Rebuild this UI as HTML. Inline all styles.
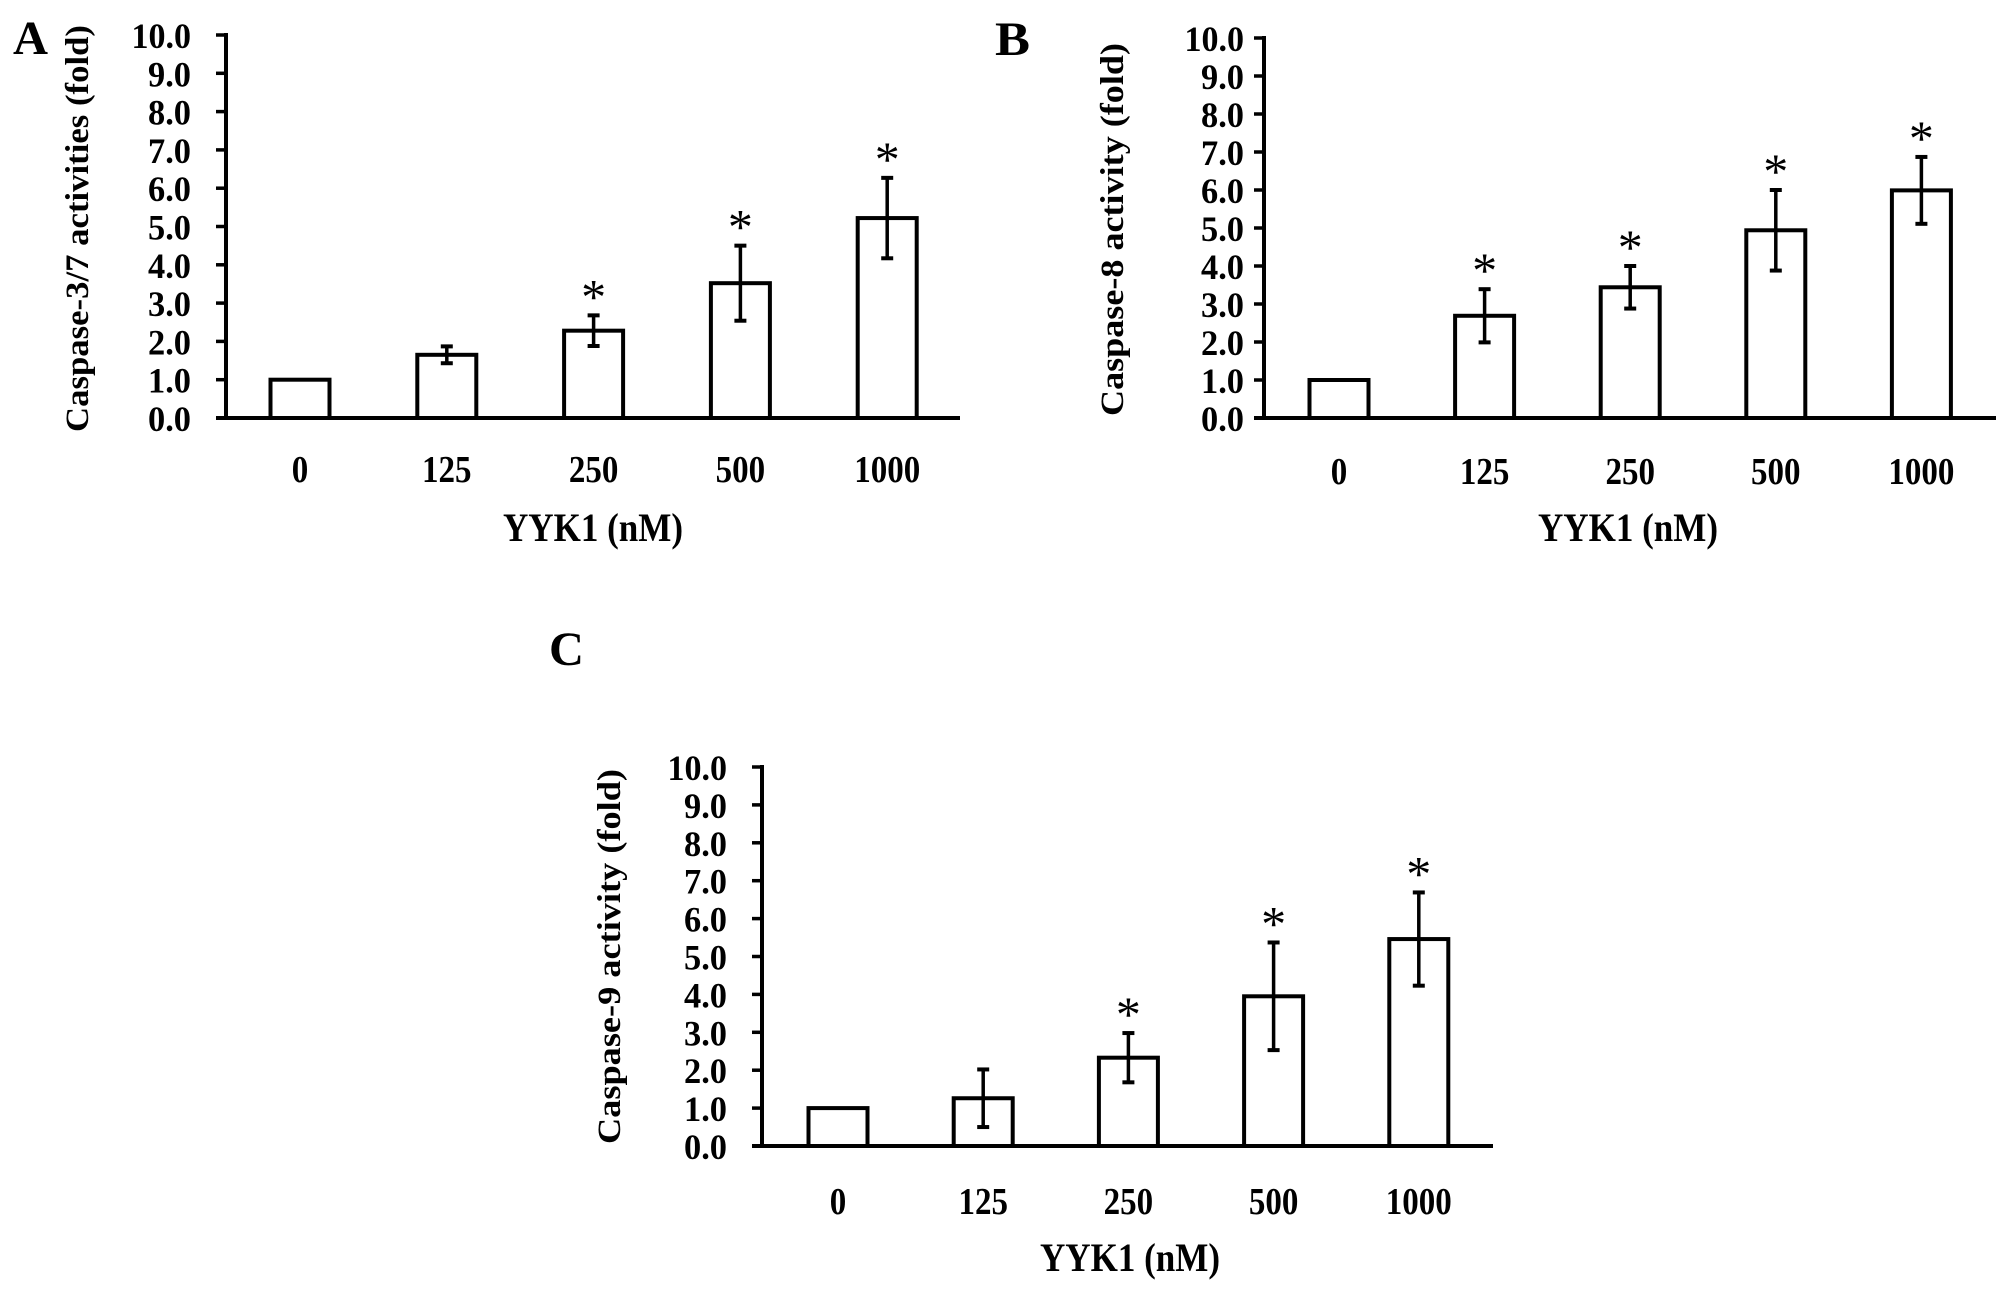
<!DOCTYPE html>
<html><head><meta charset="utf-8">
<style>
html,body{margin:0;padding:0;background:#fff;}
svg{display:block;}
text{font-family:"Liberation Serif","Times New Roman",serif;fill:#000;}
</style></head>
<body>
<svg id="fig" width="2008" height="1290" viewBox="0 0 2008 1290" xmlns="http://www.w3.org/2000/svg"></svg>
<script>
const categories = ["0","125","250","500","1000"];
const yTicks = ["0.0","1.0","2.0","3.0","4.0","5.0","6.0","7.0","8.0","9.0","10.0"];
const valuesA = [1.0, 1.65, 2.28, 3.52, 5.22];
const errorsA = [0, 0.22, 0.40, 0.98, 1.05];
const sigA = [false, false, true, true, true];
const valuesB = [1.0, 2.69, 3.44, 4.94, 5.99];
const errorsB = [0, 0.70, 0.56, 1.06, 0.88];
const sigB = [false, true, true, true, true];
const valuesC = [1.0, 1.26, 2.33, 3.95, 5.46];
const errorsC = [0, 0.76, 0.65, 1.42, 1.23];
const sigC = [false, false, true, true, true];

const NS = "http://www.w3.org/2000/svg";
const svg = document.getElementById("fig");
function mk(tag, attrs, parent){
  const e = document.createElementNS(NS, tag);
  for (const k in attrs) e.setAttribute(k, attrs[k]);
  (parent||svg).appendChild(e);
  return e;
}
function lenFor(s, dw, pw){ let w=0; for(const c of s){ w += (c==='.')?pw:dw; } return w; }

const panels = [
 {id:"a", letter:"A", lx:13, ly:54, title:"Caspase-3/7 activities (fold)", tcx:77, tTop:25, tBot:432,
  ax:226, top:35, zero:418, xEnd:960, c0:300, step:146.8, bw:59, tickR:191, xTickBase:482, xTitleBase:541, xTitleCx:593,
  vals:valuesA, errs:errorsA, sig:sigA},
 {id:"b", letter:"B", lx:995, ly:55, title:"Caspase-8 activity (fold)", tcx:1112, tTop:43, tBot:416,
  ax:1264, top:38, zero:418, xEnd:1996, c0:1339, step:145.6, bw:59, tickR:1244, xTickBase:484, xTitleBase:541, xTitleCx:1628,
  vals:valuesB, errs:errorsB, sig:sigB},
 {id:"c", letter:"C", lx:549, ly:665, title:"Caspase-9 activity (fold)", tcx:609, tTop:769, tBot:1144,
  ax:762, top:767, zero:1146, xEnd:1493, c0:838, step:145.2, bw:59, tickR:727, xTickBase:1214, xTitleBase:1271, xTitleCx:1130,
  vals:valuesC, errs:errorsC, sig:sigC}
];

panels.forEach(p=>{
  const g = mk("g", {});
  
  
  const yScale = v => p.zero - (p.zero - p.top) * v / 10;
  const xScale = i => p.c0 + i * p.step;

  const L = mk("text", {x:p.lx, y:p.ly, "font-size":48, "font-weight":"bold", textLength:35, lengthAdjust:"spacingAndGlyphs"}, g);
  L.textContent = p.letter;
  
  

  const cy = (p.tTop + p.tBot)/2;
  const yt = mk("text", {x:0, y:0, "font-size":33, "font-weight":"bold", "text-anchor":"middle",
    textLength:(p.tBot-p.tTop), lengthAdjust:"spacingAndGlyphs",
    transform:`translate(${p.tcx+11},${cy}) rotate(-90)`}, g);
  yt.textContent = p.title;
  
  

  const ya = mk("line", {x1:p.ax, y1:p.top-2, x2:p.ax, y2:p.zero, stroke:"#000", "stroke-width":4}, g);
  
  

  yTicks.forEach((t, i)=>{
    const v = parseFloat(t);
    const y = yScale(v);
    const tk = mk("line", {x1:p.ax-10, y1:y, x2:p.ax, y2:y, stroke:"#000", "stroke-width":3.5}, g);
    
    
    const tl = mk("text", {x:p.tickR, y:y+13, "font-size":36, "font-weight":"bold", "text-anchor":"end",
      textLength:lenFor(t,16.5,10), lengthAdjust:"spacingAndGlyphs"}, g);
    tl.textContent = t;
    
    
  });

  categories.forEach((c, i)=>{
    const cx = xScale(i);
    const v = p.vals[i], e = p.errs[i];
    const yt2 = yScale(v);
    const bar = mk("rect", {x:cx-p.bw/2, y:yt2, width:p.bw, height:p.zero-yt2, fill:"#fff", stroke:"#000", "stroke-width":4}, g);
    
    
    if (e > 0){
      const eT = yScale(v+e), eB = yScale(v-e);
      const el = mk("line", {x1:cx, y1:eT, x2:cx, y2:eB, stroke:"#000", "stroke-width":3.5}, g);
      
      
      [eT, eB].forEach(yy=>{
        const cap = mk("line", {x1:cx-6, y1:yy, x2:cx+6, y2:yy, stroke:"#000", "stroke-width":4}, g);
        
        
      });
      if (p.sig[i]){
        const st = mk("text", {x:cx, y:eT-25+23, "font-size":50, "text-anchor":"middle"}, g);
        st.textContent = "*";
        
        
      }
    }
    const xl = mk("text", {x:cx, y:p.xTickBase, "font-size":38, "font-weight":"bold", "text-anchor":"middle",
      textLength:lenFor(c,16.5,10), lengthAdjust:"spacingAndGlyphs"}, g);
    xl.textContent = c;
    
    
  });

  const xa = mk("line", {x1:p.ax-10, y1:p.zero, x2:p.xEnd, y2:p.zero, stroke:"#000", "stroke-width":4}, g);
  
  

  const xt = mk("text", {x:p.xTitleCx, y:p.xTitleBase, "font-size":40, "font-weight":"bold", "text-anchor":"middle",
    textLength:180, lengthAdjust:"spacingAndGlyphs"}, g);
  xt.textContent = "YYK1 (nM)";
  
  
});
</script>
</body></html>
